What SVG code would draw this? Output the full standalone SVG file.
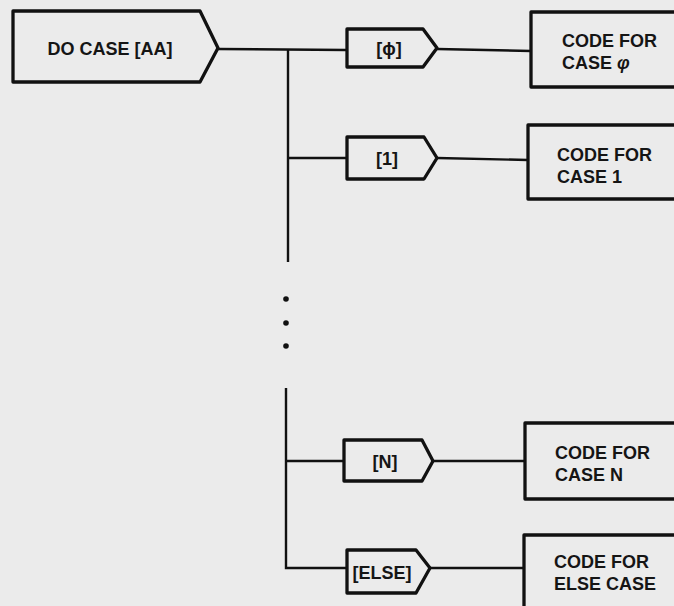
<svg xmlns="http://www.w3.org/2000/svg" width="674" height="606" viewBox="0 0 674 606">
<style>
.box{fill:none;stroke:#111;stroke-width:3.3;stroke-linejoin:round}
.ln{fill:none;stroke:#111;stroke-width:2.4}
.t{font-family:"Liberation Sans",Arial,sans-serif;font-weight:bold;font-size:18px;fill:#151515}
.c{text-anchor:middle}
</style>
<rect x="0" y="0" width="674" height="606" fill="#ebebeb"/>
<g id="connectors">
<path class="ln" d="M218,49 L346,50"/>
<path class="ln" d="M288,50 L288,262"/>
<circle cx="286" cy="299" r="2.8" fill="#111"/>
<circle cx="286" cy="323" r="2.8" fill="#111"/>
<circle cx="286" cy="346" r="2.8" fill="#111"/>
<path class="ln" d="M286,388 L286,568 L347,568"/>
<path class="ln" d="M288,158 L347,158"/>
<path class="ln" d="M286,461 L344,461"/>
<path class="ln" d="M437,49 L531,51"/>
<path class="ln" d="M437,158 L528,160"/>
<path class="ln" d="M433,461 L525,461"/>
<path class="ln" d="M430,568 L524,568"/>
</g>
<g id="do-case">
<path class="box" d="M13,11 L200,11 L218,48 L200,82 L13,82 Z"/>
<text class="t c" x="110" y="55">DO CASE [AA]</text>
</g>
<g id="case-phi">
<path class="box" d="M347,29 L423,29 L437,48 L423,67 L347,67 Z"/>
<text class="t c" x="389" y="55">[ϕ]</text>
</g>
<g id="case-1">
<path class="box" d="M347,137 L424,137 L437,158 L424,179 L347,179 Z"/>
<text class="t c" x="387" y="165">[1]</text>
</g>
<g id="case-n">
<path class="box" d="M344,440 L422,440 L433,461 L422,481 L344,481 Z"/>
<text class="t c" x="385" y="468">[N]</text>
</g>
<g id="case-else">
<path class="box" d="M347,550 L416,550 L430,568 L416,593 L347,593 Z"/>
<text class="t c" x="382" y="579">[ELSE]</text>
</g>
<g id="code-phi">
<path class="box" d="M680,12 L531,12 L531,87 L680,87"/>
<text class="t" x="562" y="47">CODE FOR</text>
<text class="t" x="562" y="69">CASE <tspan font-style="italic">φ</tspan></text>
</g>
<g id="code-1">
<path class="box" d="M680,125 L528,125 L528,199 L680,199"/>
<text class="t" x="557" y="161">CODE FOR</text>
<text class="t" x="557" y="183">CASE 1</text>
</g>
<g id="code-n">
<path class="box" d="M680,423 L525,423 L525,499 L680,499"/>
<text class="t" x="555" y="459">CODE FOR</text>
<text class="t" x="555" y="481">CASE N</text>
</g>
<g id="code-else">
<path class="box" d="M680,535 L524,535 L524,610"/>
<text class="t" x="554" y="568">CODE FOR</text>
<text class="t" x="554" y="590">ELSE CASE</text>
</g>
</svg>
